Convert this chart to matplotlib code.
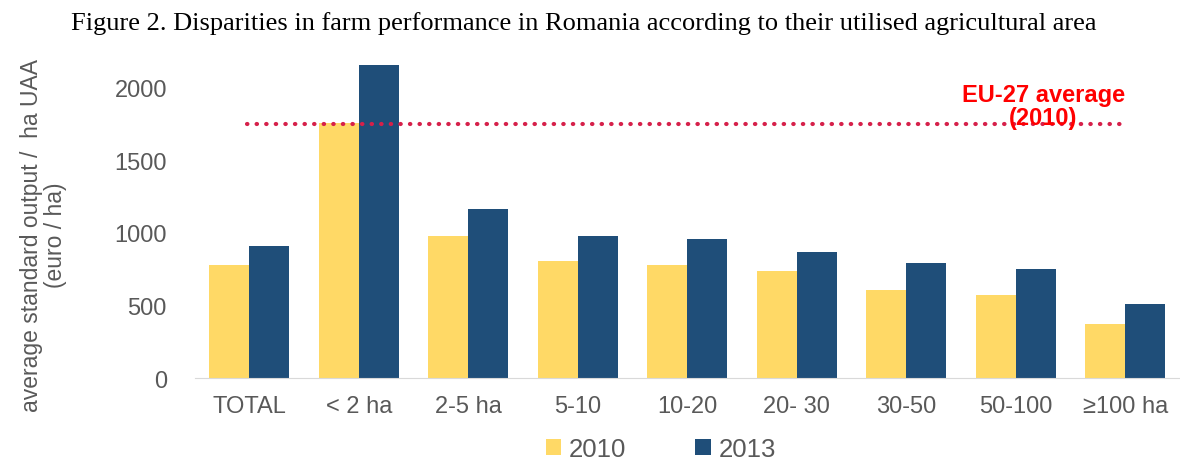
import matplotlib.pyplot as plt
import numpy as np

# ── data ──────────────────────────────────────────────────────────────────────
categories = ["TOTAL", "< 2 ha", "2-5 ha", "5-10", "10-20", "20- 30", "30-50", "50-100", "≥100 ha"]
so_2010 = [780, 1760, 980, 805, 780, 740, 610, 575, 375]
so_2013 = [910, 2160, 1165, 980, 960, 870, 795, 755, 510]
eu27_avg = 1750

YELLOW = "#FFD966"
BLUE = "#1F4E79"
GREY = "#595959"

plt.rcParams["font.family"] = ["Liberation Sans", "DejaVu Sans"]

fig = plt.figure(figsize=(11.8, 4.64), dpi=100)
ax = fig.add_axes([0.165, 0.183, 0.835, 0.688])

x = np.arange(len(categories))
w = 0.365
ax.bar(x - w / 2, so_2010, w, color=YELLOW, label="2010")
ax.bar(x + w / 2, so_2013, w, color=BLUE, label="2013")

ax.plot([x[0] - 0.02, x[-1] - 0.03], [eu27_avg, eu27_avg], color="#D6204A",
        lw=3, linestyle=(0, (0.1, 2.2)), dash_capstyle="round", zorder=3)
ax.text(7.25, 1875, "EU-27 average\n(2010)", color="#FF0000", fontsize=17,
        fontweight="bold", ha="center", va="center", linespacing=0.95)

ax.set_xlim(-0.5, 8.5)
ax.set_ylim(0, 2200)
ax.set_yticks([0, 500, 1000, 1500, 2000])
ax.set_xticks(x)
ax.set_xticklabels(categories)
ax.tick_params(axis="both", length=0, labelsize=17, labelcolor=GREY)
ax.tick_params(axis="y", pad=20)
ax.tick_params(axis="x", pad=12)
for s in ["top", "right", "left"]:
    ax.spines[s].set_visible(False)
ax.spines["bottom"].set_color("#D9D9D9")

ax.set_ylabel("average standard output /  ha UAA\n(euro / ha)", fontsize=16.5,
              color=GREY, linespacing=1.05)
ax.yaxis.set_label_coords(-0.13, 0.45)

fig.legend(loc="lower center", bbox_to_anchor=(0.56, -0.045), ncol=2, frameon=False,
           fontsize=18.5, labelcolor=GREY, handlelength=0.6, handleheight=0.6,
           handletextpad=0.3, columnspacing=2.7)

fig.suptitle("Figure 2. Disparities in farm performance in Romania according to their utilised agricultural area",
             family="Liberation Serif", fontsize=19, x=0.495, y=0.975)

fig.savefig("out.png")
